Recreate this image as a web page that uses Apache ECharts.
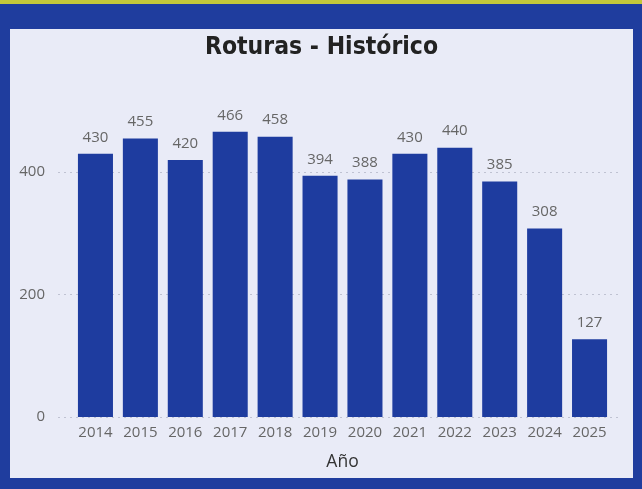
<!DOCTYPE html>
<html><head><meta charset="utf-8">
<script src="https://cdn.jsdelivr.net/npm/echarts@6/dist/echarts.min.js"></script>
<style>
html,body{margin:0;padding:0;width:642px;height:489px;overflow:hidden;background:#1f3d9e;}
#strip{position:absolute;left:0;top:0;width:642px;height:4px;background:#c4c83a;}
#chart{position:absolute;left:10px;top:29px;width:623px;height:449px;background:#e9ebf7;}
</style></head>
<body>
<div id="strip"></div>
<div id="chart"></div>
<script>
const categories = ['2014','2015','2016','2017','2018','2019','2020','2021','2022','2023','2024','2025'];
const roturas = [430,455,420,466,458,394,388,430,440,385,308,127];
const yTicks = [0,200,400];

const font = 'Open Sans';
const chart = echarts.init(document.getElementById('chart'));
chart.setOption({
  animation:false,
  backgroundColor:'#e9ebf7',
  title:{text:'Roturas - Histórico',left:'center',top:1,
    textStyle:{fontFamily:'DejaVu Sans Condensed',fontWeight:'bold',fontSize:24.5,color:'#222'}},
  grid:[
    {left:48,right:11,top:82,bottom:61},
    {left:63,right:21,top:82,bottom:61}
  ],
  xAxis:[
    {type:'category',gridIndex:0,data:categories,show:false},
    {type:'category',gridIndex:1,data:categories,
      name:'Año',nameLocation:'middle',nameGap:36,
      nameTextStyle:{fontFamily:font,fontSize:17.5,color:'#333'},
      axisLine:{show:false},axisTick:{show:false},
      axisLabel:{interval:0,fontFamily:font,fontSize:15,color:'#666',margin:8}}
  ],
  yAxis:[
    {type:'value',gridIndex:0,min:0,max:500,interval:200,
      axisLine:{show:false},axisTick:{show:false},
      axisLabel:{fontFamily:font,fontSize:15,color:'#666',margin:13,showMaxLabel:false,
        formatter:v=>yTicks.includes(v)?String(v):''},
      splitLine:{show:true,showMaxLine:false,lineStyle:{type:[2,4],color:'#bfc2d2',width:1}}},
    {type:'value',gridIndex:1,min:0,max:500,show:false,splitLine:{show:false}}
  ],
  series:[{type:'bar',xAxisIndex:1,yAxisIndex:1,data:roturas,barCategoryGap:'22%',
    itemStyle:{color:'#1e3c9f'},
    label:{show:true,position:'top',distance:9,fontFamily:font,fontSize:15,color:'#666'}}]
});
</script>
</body></html>
